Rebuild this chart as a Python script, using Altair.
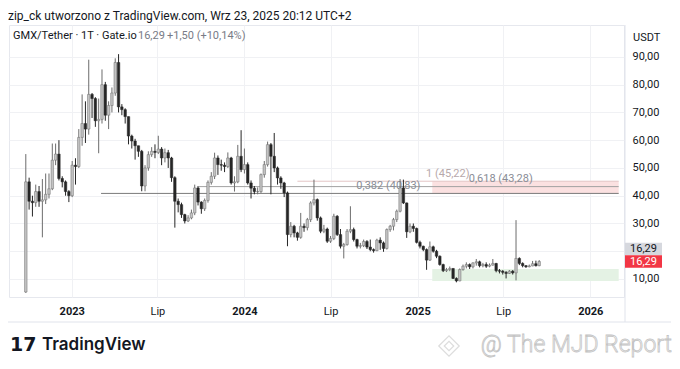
import altair as alt
import pandas as pd

# ---------------- data ----------------
first_week = "2022-09-26"
first_open = 5.3
closes = [45.0, 38.0, 37.5, 41.5, 38.0, 38.5, 40.5, 42.5, 52.8, 55.0,
          46.2, 45.0, 41.5, 40.0, 51.0, 50.5, 61.0, 66.0, 64.0, 76.5,
          75.0, 67.0, 67.5, 80.0, 69.0, 72.5, 77.0, 88.0, 72.0, 71.0,
          68.5, 61.5, 59.7, 58.0, 56.0, 43.5, 50.0, 54.8, 56.0, 55.6,
          56.8, 53.6, 55.5, 53.6, 46.5, 38.0, 36.8, 33.2, 30.9, 32.0,
          33.8, 42.8, 37.7, 35.3, 38.3, 44.8, 47.0, 53.6, 51.2, 51.0,
          50.5, 53.6, 44.6, 45.0, 54.2, 49.4, 51.2, 44.6, 42.7, 41.5,
          41.5, 47.6, 51.2, 58.4, 54.2, 50.0, 46.4, 44.6, 41.0, 26.0,
          29.0, 26.6, 25.0, 29.0, 28.5, 31.4, 37.4, 38.6, 32.0, 27.2,
          28.0, 23.6, 24.6, 32.6, 26.0, 21.8, 22.4, 27.2, 27.8, 24.2,
          21.8, 22.0, 23.5, 21.5, 20.6, 20.2, 24.0, 23.0, 21.0, 27.8,
          29.0, 31.4, 34.4, 42.8, 37.4, 27.0, 29.0, 28.2, 23.2, 21.8,
          20.6, 16.8, 21.6, 20.0, 18.2, 15.2, 13.0, 13.4, 13.8, 10.2,
          9.3, 13.4, 14.6, 15.2, 14.4, 15.8, 16.2, 14.8, 15.2, 14.6,
          15.0, 15.6, 13.0, 12.8, 12.4, 12.0, 12.8, 12.2, 17.4, 15.6,
          14.8, 14.4, 14.7, 15.5, 14.79, 16.29]
highs = [55, 46.5, 40, 44, 43.5, 46, 48, 48, 58.8, 58.8,
         60, 47, 45.5, 42, 52.5, 53.5, 64, 76.5, 74, 89,
         77, 75.5, 75, 85.5, 81, 74, 79, 89.5, 91, 73,
         71.5, 68.5, 62, 60.5, 58, 56.5, 51, 56, 57.5, 58.5,
         61.6, 57.5, 57, 56.5, 54, 47, 39, 37.5, 33.5, 33,
         35, 44, 43.5, 38, 39, 45.5, 48.5, 55.5, 54.5, 53,
         52, 55.6, 54, 47, 58.3, 63.6, 57, 52, 45.5, 43.5,
         43, 48, 52.5, 59.5, 59, 62.6, 50.5, 47, 45, 41.5,
         30.5, 29.5, 27, 33.8, 30, 32, 38, 45.8, 39, 32.5,
         29.5, 28.5, 25.5, 33.5, 33, 28, 23, 28, 36.2, 28.5,
         24.5, 23, 24.2, 24, 24.2, 21, 24.5, 25, 23.5, 28.2,
         29.5, 32, 35, 46, 45.8, 37.5, 30, 30, 28.5, 23.8,
         22, 21, 23.5, 22, 20.5, 18.5, 15.5, 14, 14.5, 13.8,
         10.6, 13.8, 15.2, 16, 15.6, 16, 17.2, 16.6, 15.8, 16,
         15.6, 17.2, 15.8, 13.6, 13.2, 12.8, 13.2, 13.2, 31.2, 17.8,
         16, 15, 15.2, 16.5, 16.6, 16.8]
lows = [5, 35, 32.5, 36, 36, 25, 37, 39, 42, 51,
        45.5, 43, 40, 37.7, 39.5, 44, 50, 58, 59, 62,
        68, 64.8, 55.3, 66, 67, 64, 70, 76, 70, 69,
        66, 58.5, 57, 53, 54, 41.6, 41.6, 49, 54, 53.5,
        55, 51, 52, 50, 45, 28.5, 34, 32, 30, 30.5,
        31.5, 33, 36.5, 33.5, 34.5, 37.5, 44, 46, 47.5, 49,
        48.5, 50, 44, 41.5, 44.5, 48.5, 48, 44, 39, 40.5,
        40.5, 41, 46.5, 50.5, 40.5, 48.5, 44, 42.5, 39.5, 21.8,
        25, 25, 23.8, 24.5, 27, 27.5, 30.5, 36.5, 31, 26.5,
        26.5, 23, 23, 24, 25.5, 21, 17.4, 22, 26.5, 23.5,
        21, 21, 21.5, 20.8, 20, 19.5, 20, 20.5, 19.8, 20.6,
        27, 27.5, 30.5, 34, 37, 24.8, 26.5, 27, 22.8, 21,
        20, 13.3, 16.5, 19.5, 17.5, 14.8, 12.5, 12.5, 12.8, 10,
        8.8, 9.2, 13, 13.8, 13.6, 13.8, 14.8, 14.2, 14.2, 14,
        14.2, 14.8, 12.4, 12, 11.6, 10.2, 11.8, 11.6, 9.5, 15,
        14.2, 14, 14.2, 14.6, 14.5, 14.6]

fib_levels = [40.83, 43.28, 45.22]
fib_starts = ["2023-03-04", "2023-09-27", "2024-04-22"]
fib_labels = ["0,382 (40,83)", "0,618 (43,28)", "1 (45,22)"]
fib_label_dates = ["2025-01-07", "2025-04-19", "2025-01-19"]
zone_start = "2025-02-01"
red_zone = [40.83, 45.22]
green_zone = [9.3, 13.6]
last_price = 16.29
y_ticks = [10, 20, 30, 40, 50, 60, 70, 80, 90]
x_ticks = ["2023-01-01", "2023-07-01", "2024-01-01", "2024-07-01",
           "2025-01-01", "2025-07-01", "2026-01-01"]

title_text = "zip_ck utworzono z TradingView.com, Wrz 23, 2025 20:12 UTC+2"
legend_pair = "GMX/Tether · 1T · Gate.io"
legend_price = "16,29"
legend_change = "+1,50 (+10,14%)"

# ---------------- layout ----------------
W, H = 615, 272
FONT = "Roboto"
px_per_day = 3.367 / 7
t0 = pd.Timestamp(first_week)
left = t0 - pd.Timedelta(days=12 / px_per_day)
right = left + pd.Timedelta(days=W / px_per_day)


def ms(t):
    return int(pd.Timestamp(t).value // 10**6)


dates = pd.date_range(first_week, periods=len(closes), freq="7D")
opens = [first_open] + closes[:-1]
df = pd.DataFrame({"date": dates.strftime("%Y-%m-%d"), "open": opens,
                   "close": closes, "high": highs, "low": lows})
df["high"] = df[["high", "open", "close"]].max(axis=1)
df["low"] = df[["low", "open", "close"]].min(axis=1)
df["up"] = df["close"] >= df["open"]
df["body_fill"] = df["up"].map({True: "#c3c3c3", False: "#262626"})
df["body_stroke"] = df["up"].map({True: "#6c6c6c", False: "#262626"})
df["wick"] = df["up"].map({True: "#6c6c6c", False: "#262626"})

end_str = right.strftime("%Y-%m-%d")

x_scale = alt.Scale(type="utc", domain=[ms(left), ms(right)], nice=False)
y_scale = alt.Scale(domain=[3.51, 101.5], nice=False, zero=False)

x_axis = alt.Axis(
    values=[ms(t) for t in x_ticks],
    labelExpr="utcFormat(datum.value, '%m') == '07' ? 'Lip' : utcFormat(datum.value, '%Y')",
    labelFontWeight={"condition": {"test": "utcFormat(datum.value, '%m') == '01'",
                                   "value": "bold"}, "value": "normal"},
    labelFont=FONT, labelFontSize=11, labelColor="#131722",
    ticks=False, tickSize=0, domain=False, labelPadding=8,
    grid=True, gridColor="#f0f1f4", gridWidth=1, title=None,
)
y_axis = alt.Axis(
    orient="right", values=y_ticks,
    labelExpr="datum.value == 20 ? '' : replace(format(datum.value, '.2f'), '.', ',')",
    labelFont=FONT, labelFontSize=11, labelColor="#131722",
    ticks=False, tickSize=0, domain=False, labelPadding=8,
    labelAlign="left", labelBaseline="middle",
    grid=True, gridColor="#f0f1f4", gridWidth=1, title=None,
)


def X(field, **kw):
    return alt.X(field, type="temporal", scale=x_scale, axis=x_axis, title=None, **kw)


def Y(field):
    return alt.Y(field, type="quantitative", scale=y_scale, axis=y_axis, title=None)


# zones
zones = pd.DataFrame({"start": [zone_start, zone_start], "end": [end_str, end_str],
                      "lo": [red_zone[0], green_zone[0]], "hi": [red_zone[1], green_zone[1]],
                      "fill": ["#fbe1e1", "#e4f2e4"]})
zone_layer = alt.Chart(zones).mark_rect().encode(
    x=X("start:T"), x2="end:T", y=Y("lo:Q"), y2="hi:Q",
    color=alt.Color("fill:N", scale=None))

fib = pd.DataFrame({"level": fib_levels, "start": fib_starts, "end": [end_str] * 3,
                    "col": ["#7b7b7b", "#a3a3a3", "#e3c5c5"],
                    "label": fib_labels, "ldate": fib_label_dates,
                    "lcol": ["#8a8d96", "#8a8d96", "#b7a9ab"]})
fib_rules = alt.Chart(fib).mark_rule(strokeWidth=1).encode(
    x=X("start:T"), x2="end:T", y=Y("level:Q"),
    color=alt.Color("col:N", scale=None))

fib_text_r = alt.Chart(fib.iloc[[0]]).mark_text(
    align="right", baseline="alphabetic", dy=-4.5, font=FONT, fontSize=11).encode(
    x=X("ldate:T"), y=Y("level:Q"), text="label:N", color=alt.Color("lcol:N", scale=None))
fib_text_l = alt.Chart(fib.iloc[[1, 2]]).mark_text(
    align="left", baseline="alphabetic", dy=-4.5, font=FONT, fontSize=11).encode(
    x=X("ldate:T"), y=Y("level:Q"), text="label:N", color=alt.Color("lcol:N", scale=None))

wicks = alt.Chart(df).mark_rule(strokeWidth=1).encode(
    x=X("date:T"), y=Y("low:Q"), y2="high:Q",
    color=alt.Color("wick:N", scale=None))
bodies = alt.Chart(df).mark_bar(size=2.5, strokeWidth=0.5).encode(
    x=X("date:T"), y=Y("open:Q"), y2="close:Q",
    fill=alt.Fill("body_fill:N", scale=None),
    stroke=alt.Stroke("body_stroke:N", scale=None))

# price labels on the price scale
box_shape = "M-1,-0.34H1V0.34H-1Z"
price_df = pd.DataFrame({"p": [last_price], "t": [f"{last_price:.2f}".replace(".", ",")]})
red_box = alt.Chart(price_df).mark_point(
    shape=box_shape, filled=True, size=37 * 37, color="#f23645", opacity=1).encode(
    x=alt.value(W + 19.5), y=Y("p:Q"))
red_txt = alt.Chart(price_df).mark_text(
    font=FONT, fontSize=11, color="white", baseline="middle").encode(
    x=alt.value(W + 19.5), y=Y("p:Q"), text="t:N")
gray_box = alt.Chart(price_df).mark_point(
    shape=box_shape, filled=True, size=37 * 37, color="#d6d8de", opacity=1).encode(
    x=alt.value(W + 19.5), y=alt.value(224))
gray_txt = alt.Chart(price_df).mark_text(
    font=FONT, fontSize=11, color="#131722", baseline="middle").encode(
    x=alt.value(W + 19.5), y=alt.value(224), text="t:N")

one = alt.Data(values=[{"a": 1}])


def label(text, x, y, size=11, color="#131722", weight="normal", align="left", **kw):
    return alt.Chart(one).mark_text(
        text=text, font=kw.pop("font", FONT), fontSize=size, color=color,
        fontWeight=weight, align=align, baseline="middle", **kw).encode(
        x=alt.value(x), y=alt.value(y))


annotations = [
    label(title_text, -1, -9.5, size=12),
    label(legend_pair, 4, 11, size=11),
    label(legend_price, 129, 11, size=11, color="#787b86"),
    label(legend_change, 158, 11, size=11, color="#787b86"),
    label("USDT", W + 9, 13, size=11),
    label("17", 1, 320, size=19, weight=900, font="DejaVu Sans"),
    label("TradingView", 33, 320, size=17, weight=600, font="Inter"),
    label("@ The MJD Report", 663, 320, size=23, weight=300, align="right",
          color="white", stroke="#c4c4c4", strokeWidth=0.8),
]
diamond = alt.Chart(one).mark_point(shape="diamond", size=420, color="#cfcfcf",
                                    strokeWidth=1.2).encode(
    x=alt.value(440), y=alt.value(321))
diamond_in = alt.Chart(one).mark_point(shape="diamond", size=90, color="#cfcfcf",
                                       strokeWidth=1.2).encode(
    x=alt.value(440), y=alt.value(321))

frame = alt.Chart(one).mark_rule(color="#e0e3eb", strokeWidth=1).encode(
    x=alt.value(-1), x2=alt.value(662), y=alt.value(297))
frame2 = alt.Chart(one).mark_rule(color="#e0e3eb", strokeWidth=1).encode(
    x=alt.value(W + 1), y=alt.value(0), y2=alt.value(297))

chart = alt.layer(
    zone_layer, fib_rules, fib_text_r, fib_text_l, wicks, bodies,
    frame, frame2, gray_box, gray_txt, red_box, red_txt, diamond, diamond_in, *annotations
).properties(
    width=W, height=H,
    autosize=alt.AutoSizeParams(type="none"),
    padding={"left": 1, "top": 17, "right": 48, "bottom": 63},
    background="white",
).configure_view(stroke="#e6e8ee", strokeWidth=1)

chart.save("out.html", embed_options={"renderer": "svg", "actions": False})
